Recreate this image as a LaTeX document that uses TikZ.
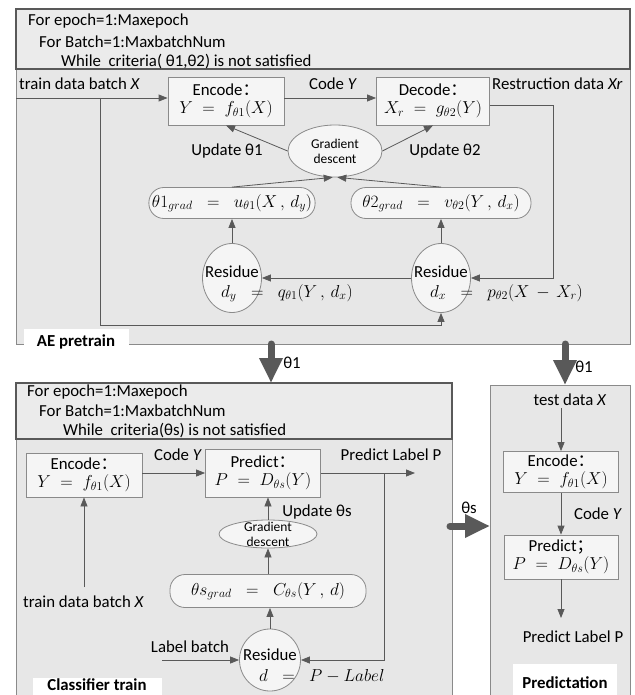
\documentclass[tikz,border=0pt]{standalone}
\usepackage{fontspec}
\setmainfont{Carlito}
\newfontfamily\cjk{Noto Sans CJK SC}
\usetikzlibrary{arrows.meta,shapes.geometric}

\definecolor{linec}{HTML}{595959}
\definecolor{areafill}{HTML}{E7E7E7}
\definecolor{hdrfill}{HTML}{EBEBEB}
\definecolor{areaedge}{HTML}{8A8A8A}
\definecolor{boxfill}{HTML}{F5F5F5}

\newcommand{\fml}[1]{{\fontsize{17.5}{20}\selectfont$#1$}}

\begin{document}
\begin{tikzpicture}[x=1pt, y=-1pt,
	area/.style={draw=areaedge, fill=areafill, line width=1pt},
	hdr/.style={draw=linec, fill=hdrfill, line width=1.8pt},
	txt/.style={font=\fontsize{16.8}{19}\selectfont, inner sep=0pt},
	hline/.style={txt, anchor=west},
	procbox/.style={draw=areaedge, fill=boxfill, line width=0.8pt, align=center, inner sep=1pt, font=\fontsize{16.8}{18}\selectfont},
	gradbox/.style={draw=areaedge, fill=boxfill, line width=0.8pt, rounded corners=15pt, minimum height=31pt, inner sep=3pt},
	oval/.style={ellipse, draw=areaedge, fill=boxfill, line width=0.8pt, inner sep=0pt},
	smalltxt/.style={align=center, inner sep=0pt, font=\fontsize{13.5}{15}\selectfont},
	flow/.style={draw=linec, line width=0.8pt, -{Triangle[length=9pt,width=7pt]}},
	bigarrow/.style={draw=linec, line width=7pt, line cap=round, -{Triangle[length=25pt,width=22pt]}},
	tag/.style={fill=white, inner sep=0pt, minimum height=26pt, font=\bfseries\fontsize{16.8}{18}\selectfont},
	tagtxt/.style={inner sep=0pt, font=\bfseries\fontsize{16.8}{18}\selectfont}]

\useasboundingbox (0,0) rectangle (634,695);

%Alueet
\draw[area] (16,69) rectangle (630,344);
\draw[area] (16,439) rectangle (452,700);
\draw[area] (490,385) rectangle (630,700);
\draw[hdr] (16,9) rectangle (630,69);
\draw[hdr] (16,383) rectangle (452,439);

%Otsikot
\node[hline] (h1a) at (28,21) {For epoch=1:Maxepoch};
\node[hline] (h1b) at (39,42) {For Batch=1:MaxbatchNum};
\node[hline] (h1c) at (61,62) {While\ \ criteria( θ1,θ2) is not satisfied};
\node[hline] (h2a) at (27,392) {For epoch=1:Maxepoch};
\node[hline] (h2b) at (39,411) {For Batch=1:MaxbatchNum};
\node[hline] (h2c) at (63,431) {While\ \ criteria(θs) is not satisfied};

%AE pretrain
\node[procbox, minimum width=116pt, minimum height=48pt] (enc1) at (226,101) {Encode{\cjk ：}\\\fml{Y \;=\; f_{\theta1}(X)}};
\node[procbox, minimum width=113pt, minimum height=48pt] (dec1) at (433,101) {Decode{\cjk ：}\\\fml{X_r \;=\; g_{\theta2}(Y)}};
\node[hline] (in1) at (19,84) {train data batch \textit{X}};
\node[txt] (cy1) at (333,84) {Code \textit{Y}};
\node[hline] (rd1) at (492,84) {Restruction data \textit{Xr}};
\node[oval, minimum width=94pt, minimum height=52pt] (gd1) at (335,151) {};
\node[smalltxt] (gdt1) at (gd1) {Gradient\\descent};
\node[txt] (u1) at (227,151) {Update θ1};
\node[txt] (u2) at (445,151) {Update θ2};
\node[gradbox, minimum width=164pt] (g1) at (232,203) {\fml{\theta1_{grad} \;\;=\;\; u_{\theta1}(X\,,\, d_y)}};
\node[gradbox, minimum width=180pt] (g2) at (441,203) {\fml{\theta2_{grad} \;\;=\;\; v_{\theta2}(Y\,,\, d_x)}};
\node[oval, minimum width=59pt, minimum height=69pt] (dy) at (232,278) {};
\node[oval, minimum width=59pt, minimum height=69pt] (dx) at (441,278) {};
\node[txt] (rt1) at (232,272) {Residue};
\node[txt] (rt2) at (441,272) {Residue};
\node[hline] (fy) at (221,293) {\fml{d_y \;\;=\;\; q_{\theta1}(Y\,,\, d_x)}};
\node[hline] (fx) at (430,293) {\fml{d_x \;\;=\;\; p_{\theta2}(X \,-\, X_r)}};
\node[tag, minimum width=105pt] (ae) at (76,342) {AE pretrain};

\coordinate (s1) at (16,98);
\coordinate (b1) at (100,98);
\coordinate (b3) at (441,325);
\coordinate (r1) at (553,105);
\draw[flow] (s1) -- (enc1.west |- s1);
\draw[flow] (enc1.east |- s1) -- (dec1.west |- s1);
\draw[flow] (dec1.east |- r1) -- (r1) |- (dx.east);
\draw[flow] (b1) |- (b3) -- (dx.south);
\draw[flow] (dx.west) -- (dy.east);
\draw[flow] (dy.north) -- (g1.south);
\draw[flow] (dx.north) -- (g2.south);
\draw[flow] (g1.north) -- (gd1.265);
\draw[flow] (g2.north) -- (gd1.275);
\draw[flow] (gd1.west) -- (enc1.south);
\draw[flow] (gd1.east) -- (dec1.south);

%Siirrot
\coordinate (t1) at (271,344);
\coordinate (t2) at (271,383);
\coordinate (t3) at (565,344);
\coordinate (t4) at (565,385);
\coordinate (t5) at (450,526);
\coordinate (t6) at (490,526);
\draw[bigarrow] (t1) -- (t2);
\draw[bigarrow] (t3) -- (t4);
\draw[bigarrow] (t5) -- (t6);
\node[txt] (th1) at (292,363) {θ1};
\node[txt] (th2) at (584,367) {θ1};
\node[txt] (ths) at (469,508) {θs};

%Classifier train
\node[procbox, minimum width=116pt, minimum height=44pt] (enc2) at (84,475) {Encode{\cjk ：}\\\fml{Y \;=\; f_{\theta1}(X)}};
\node[procbox, minimum width=115pt, minimum height=48pt] (pr2) at (263,473) {Predict{\cjk ：}\\\fml{P \;=\; D_{\theta s}(Y)}};
\node[txt] (cy2) at (178,455) {Code \textit{Y}};
\node[txt] (pl2) at (391,455) {Predict Label P};
\node[oval, minimum width=98pt, minimum height=28pt] (gd2) at (268,534) {};
\node[smalltxt] (gdt2) at (gd2) {Gradient\\descent};
\node[txt] (u3) at (317,512) {Update θs};
\node[gradbox, minimum width=196pt, minimum height=33pt] (gs) at (268,591) {\fml{\theta s_{grad} \;\;=\;\; C_{\theta s}(Y\,,\, d)}};
\node[oval, minimum width=61pt, minimum height=62pt] (r3) at (270,660) {};
\node[txt] (rt3) at (270,655) {Residue};
\node[hline] (fd) at (259,676) {\fml{d \;\;=\;\; P - Label}};
\node[txt] (lb) at (190,647) {Label batch};
\node[hline] (in2) at (23,602) {train data batch \textit{X}};
\fill[white] (33,678) rectangle (162,700);
\node[tagtxt] (ct) at (97,685) {Classifier train};

\coordinate (p1) at (384,473);
\coordinate (p2) at (415,473);
\coordinate (l1) at (162,660);
\coordinate (e1) at (84,587);
\draw[flow] (enc2.east |- pr2) -- (pr2.west);
\draw[flow] (pr2.east) -- (p2);
\draw[flow] (p1) |- (r3.east);
\draw[flow] (gd2.north) -- (gd2.north |- pr2.south);
\draw[flow] (gs.north) -- (gd2.south);
\draw[flow] (r3.north) -- (r3.north |- gs.south);
\draw[flow] (l1) -- (r3.west);
\draw[flow] (e1) -- (enc2.south);

%Predictation
\node[txt] (td) at (570,400) {test data \textit{X}};
\node[procbox, minimum width=115pt, minimum height=41pt] (enc3) at (561,472) {Encode{\cjk ：}\\\fml{Y \;=\; f_{\theta1}(X)}};
\node[procbox, minimum width=114pt, minimum height=44pt] (pr3) at (561,557) {Predict{\cjk ；}\\\fml{P \;=\; D_{\theta s}(Y)}};
\node[txt] (cy3) at (598,514) {Code \textit{Y}};
\node[txt] (pl3) at (573,637) {Predict Label P};
\fill[white] (513,664) rectangle (617,700);
\node[tagtxt] (pd) at (565,683) {Predictation};

\coordinate (q1) at (561,408);
\coordinate (q2) at (561,618);
\draw[flow] (q1) -- (enc3.north);
\draw[flow] (enc3.south) -- (pr3.north);
\draw[flow] (pr3.south) -- (q2);

\end{tikzpicture}
\end{document}
